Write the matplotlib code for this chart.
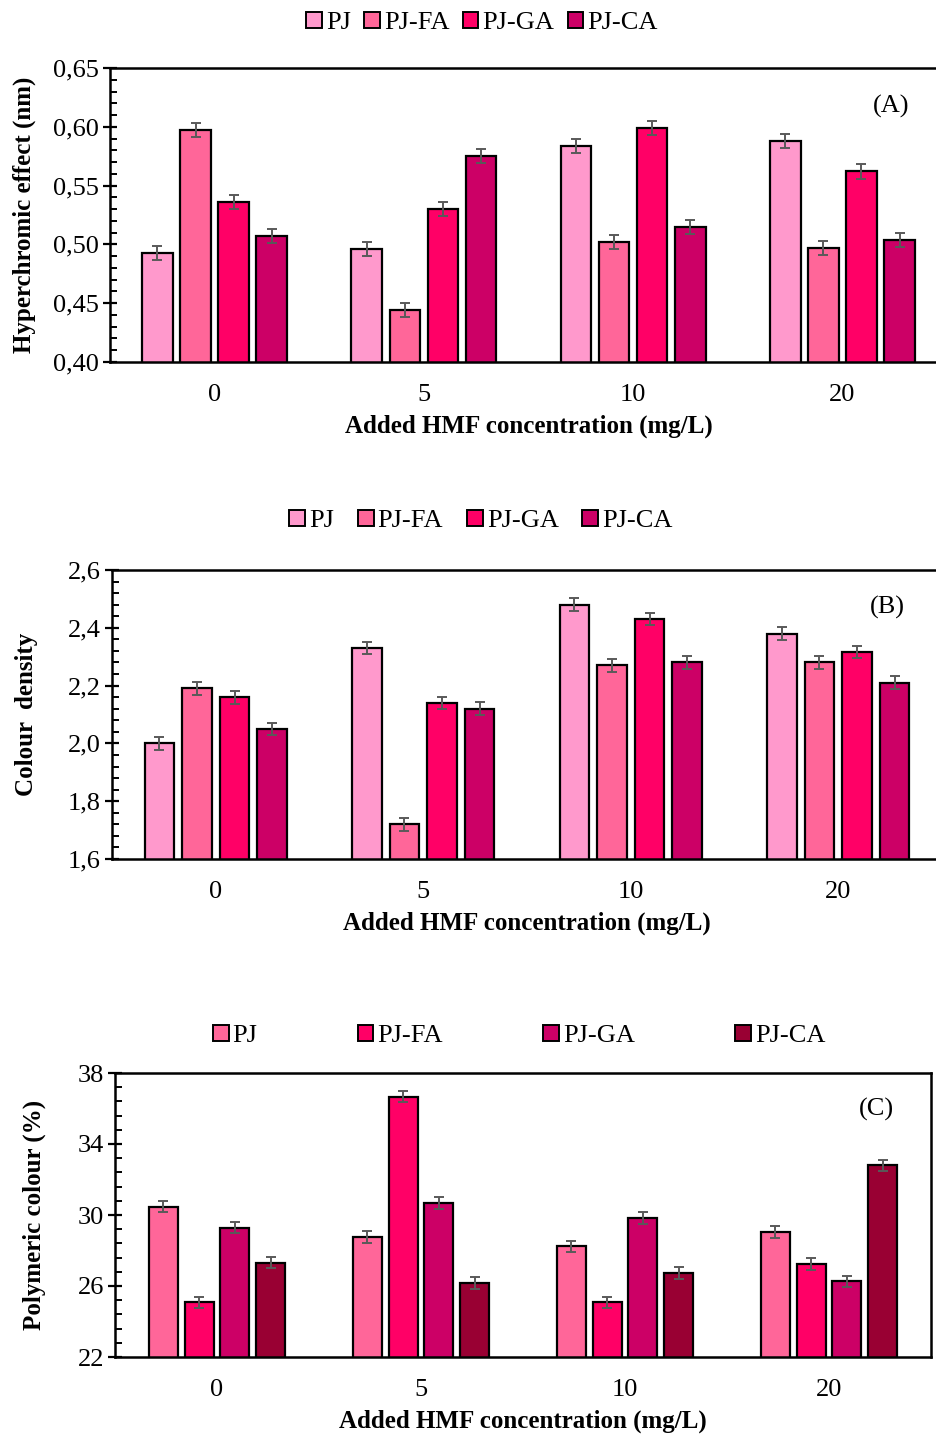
import numpy as np
import matplotlib
matplotlib.use('Agg')
import matplotlib.pyplot as plt
from matplotlib.ticker import FixedLocator, FuncFormatter
from matplotlib.patches import Patch

plt.rcParams['font.family'] = ['Liberation Serif', 'DejaVu Serif']

concentrations = ['0', '5', '10', '20']
series = ['PJ', 'PJ-FA', 'PJ-GA', 'PJ-CA']

# (A) hyperchromic effect (nm)
hyper = {
    'PJ':    [0.493, 0.496, 0.584, 0.588],
    'PJ-FA': [0.597, 0.444, 0.502, 0.497],
    'PJ-GA': [0.536, 0.530, 0.599, 0.562],
    'PJ-CA': [0.507, 0.575, 0.515, 0.504],
}
hyper_err = 0.006

# (B) colour density
density = {
    'PJ':    [2.00, 2.33, 2.48, 2.38],
    'PJ-FA': [2.19, 1.72, 2.27, 2.28],
    'PJ-GA': [2.16, 2.14, 2.43, 2.316],
    'PJ-CA': [2.05, 2.12, 2.28, 2.21],
}
density_err = 0.022

# (C) polymeric colour (%)
polymeric = {
    'PJ':    [30.47, 28.77, 28.24, 29.04],
    'PJ-FA': [25.08, 36.66, 25.08, 27.23],
    'PJ-GA': [29.28, 30.67, 29.83, 26.27],
    'PJ-CA': [27.32, 26.17, 26.74, 32.80],
}
polymeric_err = 0.32

colors_ab = ['#FF99CC', '#FF6699', '#FF0066', '#CC0066']
colors_c = ['#FF6699', '#FF0066', '#CC0066', '#990033']

W, H = 937, 1437
fig = plt.figure(figsize=(W / 100, H / 100), dpi=100)


def px_axes(left, top, right, bottom):
    return fig.add_axes([left / W, 1 - bottom / H, (right - left) / W, (bottom - top) / H])


def comma(fmt):
    return FuncFormatter(lambda v, p: (fmt % v).replace('.', ','))


def panel(ax, data, err, colors, width, pitch, ylim, major, fmt, ylabel, tag, label_x):
    x = np.arange(len(concentrations))
    for i, name in enumerate(series):
        ax.bar(x + (i - 1.5) * pitch, data[name], width, color=colors[i],
               edgecolor='black', linewidth=1.6, zorder=2,
               yerr=err, ecolor='#595959', capsize=3.8,
               error_kw=dict(elinewidth=1.4, capthick=1.4, zorder=3))
    ax.set_xlim(-0.5, len(concentrations) - 0.5)
    ax.set_ylim(*ylim)
    ax.set_xticks(x)
    ax.set_xticklabels(concentrations)
    ax.tick_params(axis='x', length=0, pad=16, labelsize=19)
    majors = np.linspace(ylim[0], ylim[1], int(round((ylim[1] - ylim[0]) / major)) + 1)
    minors = np.linspace(ylim[0], ylim[1], 5 * (len(majors) - 1) + 1)
    ax.yaxis.set_major_locator(FixedLocator(majors))
    ax.yaxis.set_minor_locator(FixedLocator(minors))
    ax.yaxis.set_major_formatter(comma(fmt))
    ax.tick_params(axis='y', which='major', direction='inout', length=10,
                   width=1.6, labelsize=19, pad=3)
    ax.tick_params(axis='y', which='minor', direction='in', length=5, width=1.4)
    for s in ax.spines.values():
        s.set_linewidth(1.8)
    ax.set_xlabel('Added HMF concentration (mg/L)', fontsize=18,
                  fontweight='bold', labelpad=6)
    ax.set_ylabel(ylabel, fontsize=18, fontweight='bold')
    pos = ax.get_position()
    ax.yaxis.set_label_coords((label_x / W - pos.x0) / pos.width, 0.5)
    ax.text(0.955, 0.87, tag, transform=ax.transAxes, fontsize=19,
            ha='right', va='center')


def legend(colors, cx, cy, spacing):
    handles = [Patch(facecolor=c, edgecolor='black', linewidth=1.4) for c in colors]
    fig.legend(handles, series, loc='center', bbox_to_anchor=(cx / W, 1 - cy / H),
               ncol=4, frameon=False, fontsize=19, handlelength=0.6,
               handleheight=0.6, handletextpad=0.15, columnspacing=spacing,
               borderaxespad=0)


axA = px_axes(110, 68, 947, 362)
panel(axA, hyper, hyper_err, colors_ab, 0.146, 0.182, (0.40, 0.65), 0.05, '%.2f',
      'Hyperchromic effect (nm)', '(A)', 36)
legend(colors_ab, 482, 23, 0.5)

axB = px_axes(112, 570, 942, 859)
panel(axB, density, density_err, colors_ab, 0.142, 0.181, (1.6, 2.6), 0.2, '%.1f',
      'Colour  density', '(B)', 38)
legend(colors_ab, 481, 521, 0.9)

axC = px_axes(115, 1073, 931, 1357)
panel(axC, polymeric, polymeric_err, colors_c, 0.142, 0.175, (22, 38), 4, '%.0f',
      'Polymeric colour (%)', '(C)', 46)
legend(colors_c, 519, 1036, 3.8)

fig.savefig('out.png', dpi=100)
